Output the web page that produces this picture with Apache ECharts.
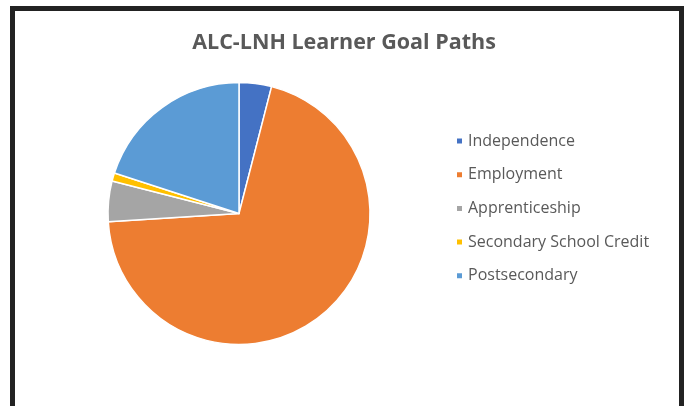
<!DOCTYPE html>
<html>
<head>
<meta charset="utf-8">
<script src="https://cdn.jsdelivr.net/npm/echarts@6/dist/echarts.min.js"></script>
<style>
html,body{margin:0;padding:0;background:#fff;}
#chart{width:688px;height:406px;}
</style>
</head>
<body>
<div id="chart"></div>
<script>
const titleText = 'ALC-LNH Learner Goal Paths';
const categories = ['Independence', 'Employment', 'Apprenticeship', 'Secondary School Credit', 'Postsecondary'];
const values = [4, 70, 5, 1, 20];
const colors = ['#4472C4', '#ED7D31', '#A5A5A5', '#FFC000', '#5B9BD5'];

const chart = echarts.init(document.getElementById('chart'), null, {renderer: 'canvas'});
chart.setOption({
  backgroundColor: '#fff',
  animation: false,
  color: colors,
  title: {
    text: titleText,
    left: 'center',
    top: 27,
    textStyle: {
      fontFamily: 'Open Sans',
      fontSize: 21.5,
      fontWeight: 'bold',
      color: '#595959'
    }
  },
  legend: {
    orient: 'vertical',
    left: 450,
    top: 128,
    icon: 'rect',
    itemWidth: 7,
    itemHeight: 7,
    itemGap: 17.7,
    textStyle: {
      fontFamily: 'Open Sans',
      fontSize: 16,
      lineHeight: 16,
      color: '#595959'
    },
    data: categories
  },
  graphic: [{
    type: 'polyline',
    shape: {points: [[12.5, 406], [12.5, 8.5], [681.5, 8.5], [681.5, 406]]},
    style: {stroke: '#222', lineWidth: 5, fill: null},
    silent: true
  }],
  series: [{
    type: 'pie',
    center: [239, 213.5],
    radius: [0, 131],
    startAngle: 90,
    clockwise: true,
    label: {show: false},
    labelLine: {show: false},
    itemStyle: {borderColor: '#fff', borderWidth: 1.5},
    data: categories.map((c, i) => ({name: c, value: values[i]}))
  }]
});
</script>
</body>
</html>
